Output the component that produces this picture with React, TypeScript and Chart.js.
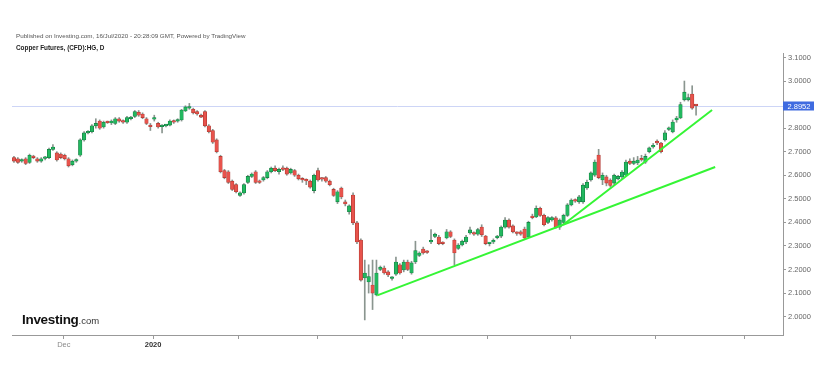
import React, { useEffect, useRef } from 'react';
import { Chart, registerables } from 'chart.js';

Chart.register(...registerables);

const opens = [
  2.675, 2.67, 2.66, 2.67, 2.655, 2.68, 2.67, 2.66, 2.672, 2.675,
  2.71, 2.695, 2.69, 2.685, 2.67, 2.645, 2.66, 2.685, 2.75, 2.78,
  2.785, 2.81, 2.83, 2.805, 2.825, 2.822, 2.82, 2.84, 2.83, 2.825,
  2.84, 2.85, 2.868, 2.86, 2.84, 2.812, 2.838, 2.82, 2.806, 2.81,
  2.813, 2.83, 2.83, 2.835, 2.873, 2.885, 2.88, 2.87, 2.855, 2.87,
  2.81, 2.79, 2.75, 2.68, 2.62, 2.615, 2.575, 2.56, 2.515, 2.525,
  2.57, 2.595, 2.615, 2.575, 2.58, 2.59, 2.615, 2.63, 2.615, 2.63,
  2.63, 2.61, 2.62, 2.6, 2.582, 2.578, 2.575, 2.535, 2.62, 2.585,
  2.59, 2.575, 2.54, 2.487, 2.546, 2.487, 2.445, 2.516, 2.398, 2.325,
  2.164, 2.147, 2.134, 2.092, 2.2, 2.206, 2.19, 2.162, 2.18, 2.22,
  2.198, 2.232, 2.185, 2.232, 2.26, 2.287, 2.274, 2.317, 2.34, 2.338,
  2.312, 2.334, 2.36, 2.325, 2.29, 2.304, 2.317, 2.355, 2.357, 2.35,
  2.38, 2.342, 2.31, 2.317, 2.335, 2.342, 2.38, 2.41, 2.385, 2.355,
  2.36, 2.372, 2.338, 2.427, 2.423, 2.46, 2.43, 2.4, 2.41, 2.419,
  2.38, 2.4, 2.43, 2.474, 2.495, 2.487, 2.487, 2.546, 2.58, 2.6,
  2.686, 2.58, 2.593, 2.58, 2.567, 2.585, 2.593, 2.6, 2.66, 2.65,
  2.652, 2.67, 2.656, 2.7, 2.72, 2.745, 2.737, 2.75, 2.795, 2.784,
  2.835, 2.843, 2.92, 2.92, 2.945, 2.897,
];

const highs = [
  2.68, 2.675, 2.67, 2.675, 2.69, 2.685, 2.675, 2.675, 2.68, 2.715,
  2.73, 2.7, 2.695, 2.69, 2.675, 2.665, 2.67, 2.755, 2.785, 2.79,
  2.815, 2.84, 2.835, 2.83, 2.83, 2.835, 2.845, 2.845, 2.835, 2.85,
  2.85, 2.875, 2.875, 2.865, 2.845, 2.82, 2.855, 2.825, 2.815, 2.815,
  2.835, 2.835, 2.84, 2.88, 2.895, 2.905, 2.885, 2.875, 2.86, 2.875,
  2.815, 2.795, 2.755, 2.685, 2.625, 2.62, 2.58, 2.565, 2.53, 2.565,
  2.6, 2.61, 2.62, 2.58, 2.595, 2.62, 2.635, 2.64, 2.63, 2.64,
  2.635, 2.63, 2.625, 2.605, 2.59, 2.585, 2.58, 2.605, 2.63, 2.59,
  2.595, 2.58, 2.545, 2.535, 2.55, 2.495, 2.475, 2.525, 2.405, 2.33,
  2.24, 2.22, 2.24, 2.24, 2.215, 2.215, 2.195, 2.17, 2.253, 2.225,
  2.24, 2.24, 2.235, 2.32, 2.275, 2.295, 2.28, 2.37, 2.355, 2.345,
  2.318, 2.37, 2.365, 2.33, 2.31, 2.325, 2.345, 2.38, 2.36, 2.375,
  2.39, 2.345, 2.315, 2.33, 2.345, 2.385, 2.42, 2.415, 2.39, 2.36,
  2.365, 2.38, 2.405, 2.435, 2.47, 2.465, 2.435, 2.425, 2.425, 2.425,
  2.415, 2.435, 2.48, 2.5, 2.5, 2.515, 2.565, 2.58, 2.615, 2.665,
  2.71, 2.61, 2.6, 2.585, 2.605, 2.6, 2.62, 2.665, 2.67, 2.675,
  2.68, 2.685, 2.69, 2.72, 2.735, 2.75, 2.74, 2.79, 2.805, 2.835,
  2.85, 2.91, 3.0, 2.945, 2.98, 2.9,
];

const lows = [
  2.655, 2.65, 2.655, 2.645, 2.65, 2.67, 2.655, 2.655, 2.665, 2.67,
  2.705, 2.66, 2.67, 2.665, 2.635, 2.64, 2.655, 2.68, 2.745, 2.775,
  2.78, 2.8, 2.795, 2.8, 2.82, 2.815, 2.815, 2.825, 2.82, 2.82,
  2.835, 2.845, 2.85, 2.84, 2.815, 2.79, 2.83, 2.8, 2.78, 2.805,
  2.81, 2.82, 2.825, 2.83, 2.87, 2.88, 2.86, 2.855, 2.845, 2.805,
  2.78, 2.735, 2.695, 2.61, 2.585, 2.565, 2.535, 2.525, 2.51, 2.52,
  2.565, 2.59, 2.565, 2.565, 2.575, 2.585, 2.61, 2.615, 2.605, 2.62,
  2.6, 2.605, 2.595, 2.58, 2.57, 2.56, 2.545, 2.525, 2.575, 2.575,
  2.57, 2.555, 2.51, 2.48, 2.5, 2.47, 2.435, 2.39, 2.31, 2.15,
  1.986, 2.1, 2.03, 2.088, 2.195, 2.18, 2.17, 2.155, 2.175, 2.18,
  2.19, 2.195, 2.18, 2.225, 2.255, 2.265, 2.268, 2.31, 2.335, 2.305,
  2.305, 2.33, 2.335, 2.22, 2.285, 2.3, 2.31, 2.35, 2.345, 2.345,
  2.34, 2.305, 2.3, 2.31, 2.33, 2.335, 2.375, 2.375, 2.355, 2.345,
  2.345, 2.33, 2.335, 2.415, 2.42, 2.425, 2.385, 2.395, 2.405, 2.375,
  2.37, 2.395, 2.425, 2.47, 2.485, 2.48, 2.48, 2.54, 2.575, 2.595,
  2.585, 2.56, 2.555, 2.55, 2.56, 2.58, 2.585, 2.595, 2.645, 2.645,
  2.645, 2.66, 2.65, 2.695, 2.715, 2.73, 2.695, 2.745, 2.79, 2.78,
  2.825, 2.84, 2.915, 2.915, 2.88, 2.855,
];

const closes = [
  2.66, 2.655, 2.665, 2.65, 2.685, 2.675, 2.66, 2.67, 2.676, 2.71,
  2.72, 2.665, 2.675, 2.67, 2.64, 2.66, 2.665, 2.75, 2.78, 2.785,
  2.81, 2.82, 2.8, 2.825, 2.823, 2.83, 2.84, 2.83, 2.825, 2.845,
  2.845, 2.87, 2.855, 2.845, 2.82, 2.806, 2.843, 2.805, 2.81, 2.812,
  2.83, 2.825, 2.835, 2.877, 2.89, 2.887, 2.865, 2.86, 2.847, 2.81,
  2.785, 2.74, 2.7, 2.615, 2.59, 2.57, 2.54, 2.53, 2.525, 2.56,
  2.595, 2.605, 2.57, 2.57, 2.59, 2.615, 2.63, 2.62, 2.625, 2.625,
  2.605, 2.625, 2.6, 2.585, 2.58, 2.576, 2.55, 2.6, 2.58, 2.583,
  2.575, 2.56, 2.515, 2.53, 2.508, 2.478, 2.47, 2.398, 2.317, 2.155,
  2.185, 2.17, 2.1, 2.185, 2.21, 2.185, 2.177, 2.166, 2.232, 2.185,
  2.232, 2.2, 2.228, 2.28, 2.27, 2.27, 2.272, 2.322, 2.35, 2.31,
  2.31, 2.36, 2.34, 2.27, 2.304, 2.32, 2.338, 2.368, 2.35, 2.37,
  2.347, 2.31, 2.312, 2.32, 2.34, 2.38, 2.41, 2.38, 2.36, 2.353,
  2.35, 2.334, 2.4, 2.42, 2.46, 2.43, 2.39, 2.42, 2.42, 2.38,
  2.41, 2.43, 2.474, 2.495, 2.49, 2.508, 2.558, 2.57, 2.61, 2.656,
  2.59, 2.6, 2.567, 2.557, 2.6, 2.595, 2.614, 2.656, 2.65, 2.66,
  2.665, 2.665, 2.68, 2.716, 2.727, 2.737, 2.7, 2.78, 2.8, 2.826,
  2.843, 2.9, 2.953, 2.93, 2.885, 2.8952,
];

const yTickValues = [2.0, 2.1, 2.2, 2.3, 2.4, 2.5, 2.6, 2.7, 2.8, 3.0, 3.1];
const monthTickPositions = [12.8, 35.7, 57.7, 77.8, 99.8, 121.6, 142.7, 164.5, 187.3];
const monthTickLabels = ['Dec', '2020', '', '', '', '', '', '', ''];
const trendLineA = [
  { x: 93.2, y: 2.09 },
  { x: 179.9, y: 2.635 },
];
const trendLineB = [
  { x: 140.9, y: 2.39 },
  { x: 179.1, y: 2.877 },
];
const lastPrice = 2.8952;
const xMin = -0.5;
const xMax = 197.3;
const yMin = 1.922;
const yMax = 3.119;

const UP_FILL = '#22b85f';
const UP_BORDER = '#13793f';
const DOWN_FILL = '#e8534c';
const DOWN_BORDER = '#a8372f';
const WICK = '#8a958f';
const TREND = '#35f535';
const FONT = '"Liberation Sans", Arial, Helvetica, sans-serif';

const priceLinePlugin = {
  id: 'priceLine',
  beforeDatasetsDraw(chart: any) {
    const { ctx, chartArea, scales } = chart;
    const y = Math.round(scales.y.getPixelForValue(lastPrice)) + 0.5;
    ctx.save();
    ctx.strokeStyle = '#cdd5f6';
    ctx.lineWidth = 1;
    ctx.beginPath();
    ctx.moveTo(chartArea.left, y);
    ctx.lineTo(chartArea.right, y);
    ctx.stroke();
    ctx.restore();
  },
  afterDraw(chart: any) {
    const { ctx, chartArea, scales } = chart;
    const y = scales.y.getPixelForValue(lastPrice);
    ctx.save();
    ctx.fillStyle = '#3f6be0';
    ctx.fillRect(chartArea.right, Math.round(y) - 4.5, 31, 9);
    ctx.fillStyle = '#ffffff';
    ctx.font = `7.5px ${FONT}`;
    ctx.textBaseline = 'middle';
    ctx.textAlign = 'left';
    ctx.fillText(lastPrice.toFixed(4), chartArea.right + 4.5, Math.round(y) + 0.5);
    ctx.restore();
  },
};

export default function App() {
  const canvasRef = useRef<HTMLCanvasElement | null>(null);

  useEffect(() => {
    if (!canvasRef.current) return;
    const bodies = closes.map((c, i) => ({ x: i, y: [opens[i], c] }));
    const wicks = closes.map((_, i) => ({ x: i, y: [lows[i], highs[i]] }));
    const isUp = closes.map((c, i) => c >= opens[i]);

    const chart = new Chart(canvasRef.current, {
      type: 'bar',
      data: {
        datasets: [
          {
            type: 'line',
            data: trendLineA,
            borderColor: TREND,
            borderWidth: 2,
            pointRadius: 0,
            order: 0,
          } as any,
          {
            type: 'line',
            data: trendLineB,
            borderColor: TREND,
            borderWidth: 2,
            pointRadius: 0,
            order: 0,
          } as any,
          {
            data: bodies as any,
            backgroundColor: isUp.map((u) => (u ? UP_FILL : DOWN_FILL)),
            borderColor: isUp.map((u) => (u ? UP_BORDER : DOWN_BORDER)),
            borderWidth: 0.6,
            borderSkipped: false,
            barThickness: 3.5,
            minBarLength: 1.6,
            grouped: false,
            order: 1,
          } as any,
          {
            data: wicks as any,
            backgroundColor: WICK,
            borderWidth: 0,
            barThickness: 1,
            grouped: false,
            order: 2,
          } as any,
        ],
      },
      options: {
        responsive: false,
        animation: false,
        events: [],
        layout: { padding: { left: 12, top: 53, right: 0, bottom: 0 } },
        plugins: {
          legend: { display: false },
          tooltip: { enabled: false },
          title: { display: false },
        },
        scales: {
          x: {
            type: 'linear',
            min: xMin,
            max: xMax,
            offset: false,
            afterBuildTicks: (scale: any) => {
              scale.ticks = monthTickPositions.map((v) => ({ value: v }));
            },
            afterFit: (scale: any) => {
              scale.height = 32;
            },
            ticks: {
              autoSkip: false,
              maxRotation: 0,
              padding: 1,
              font: (ctx: any) => ({
                size: 7.5,
                family: FONT,
                weight: ctx.index === 1 ? 'bold' : 'normal',
              }),
              color: (ctx: any) => (ctx.index === 1 ? '#333333' : '#8a8a8a'),
              callback: (_v: any, i: number) => monthTickLabels[i],
            },
            grid: {
              offset: false,
              drawOnChartArea: false,
              drawTicks: true,
              tickLength: 4,
              color: '#999999',
            },
            border: { display: true, color: '#999999', width: 1 },
          },
          y: {
            type: 'linear',
            position: 'right',
            min: yMin,
            max: yMax,
            afterBuildTicks: (scale: any) => {
              scale.ticks = yTickValues.map((v) => ({ value: v }));
            },
            afterFit: (scale: any) => {
              scale.width = 50;
            },
            ticks: {
              padding: 2,
              font: { size: 7.5, family: FONT },
              color: '#666666',
              callback: (v: any) => Number(v).toFixed(4),
            },
            grid: {
              offset: false,
              drawOnChartArea: false,
              drawTicks: true,
              tickLength: 3,
              color: '#999999',
            },
            border: { display: true, color: '#999999', width: 1 },
          },
        },
      } as any,
      plugins: [priceLinePlugin],
    });
    return () => chart.destroy();
  }, []);

  return (
    <div
      style={{
        position: 'fixed',
        left: 0,
        top: 0,
        width: 833,
        height: 367,
        background: '#ffffff',
        overflow: 'hidden',
        fontFamily: FONT,
      }}
    >
      <canvas ref={canvasRef} width={833} height={367} style={{ position: 'absolute', left: 0, top: 0 }} />
      <div
        style={{
          position: 'absolute',
          left: 16,
          top: 31,
          fontSize: 6.25,
          lineHeight: '9px',
          color: '#555555',
          whiteSpace: 'nowrap',
        }}
      >
        Published on Investing.com, 16/Jul/2020 - 20:28:09 GMT, Powered by TradingView
      </div>
      <div
        style={{
          position: 'absolute',
          left: 16,
          top: 43,
          fontSize: 6.4,
          lineHeight: '9px',
          fontWeight: 'bold',
          color: '#222222',
          whiteSpace: 'nowrap',
        }}
      >
        Copper Futures, (CFD):HG, D
      </div>
      <div
        style={{
          position: 'absolute',
          left: 22,
          top: 311,
          whiteSpace: 'nowrap',
          lineHeight: '16px',
        }}
      >
        <span style={{ fontSize: 13.5, fontWeight: 'bold', color: '#111111', letterSpacing: -0.3 }}>Investing</span>
        <span style={{ fontSize: 9.5, color: '#333333' }}>.com</span>
      </div>
    </div>
  );
}
